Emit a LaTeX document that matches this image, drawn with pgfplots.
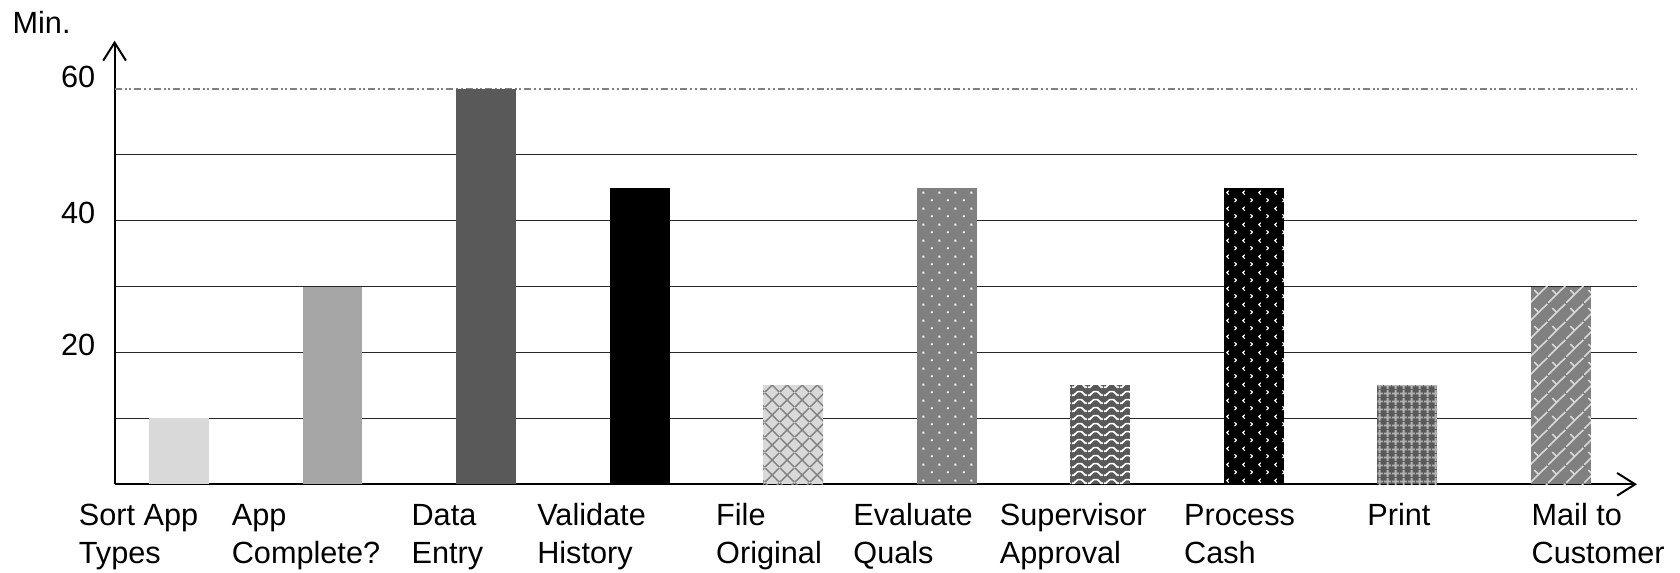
\documentclass[border=0pt]{standalone}
\usepackage{pgfplots}
\pgfplotsset{compat=1.18}
\usepackage{fontspec}
\setmainfont{Liberation Sans}
\usetikzlibrary{patterns.meta, arrows.meta}

\definecolor{lightfill}{HTML}{D9D9D9}
\definecolor{midfill}{HTML}{A6A6A6}
\definecolor{grayfill}{HTML}{808080}
\definecolor{darkfill}{HTML}{595959}
\definecolor{gridlight}{HTML}{B3B3B3}

% fill patterns for the bars
\tikzdeclarepattern{name=lattice, type=uncolored,
  bounding box={(0pt,0pt) and (4.5pt,4.5pt)}, tile size={(4.5pt,4.5pt)},
  code={\draw[line width=0.45pt] (0pt,0pt)--(4.5pt,4.5pt) (0pt,4.5pt)--(4.5pt,0pt);}}
\tikzdeclarepattern{name=sparsedots, type=uncolored,
  bounding box={(0pt,0pt) and (4.8pt,4.8pt)}, tile size={(4.8pt,4.8pt)},
  code={\fill (0.9pt,0.9pt) rectangle +(0.6pt,0.6pt);
        \fill (3.3pt,3.3pt) rectangle +(0.6pt,0.6pt);}}
\tikzdeclarepattern{name=waves, type=uncolored,
  bounding box={(0pt,0pt) and (4.8pt,2.4pt)}, tile size={(4.8pt,2.4pt)},
  code={\draw[line width=0.55pt] (0pt,0.6pt)--(0.6pt,0.6pt)--(1.8pt,1.8pt)--(3.0pt,1.8pt)--(4.2pt,0.6pt)--(4.8pt,0.6pt);}}
\tikzdeclarepattern{name=chevrons, type=uncolored,
  bounding box={(0pt,0pt) and (4.8pt,4.8pt)}, tile size={(4.8pt,4.8pt)},
  code={\draw[line width=0.35pt] (0.8pt,0.6pt)--(1.4pt,1.2pt)--(0.8pt,1.8pt);
        \draw[line width=0.35pt] (4.0pt,3.0pt)--(3.4pt,3.6pt)--(4.0pt,4.2pt);}}
\tikzdeclarepattern{name=smallgrid, type=uncolored,
  bounding box={(0pt,0pt) and (2.4pt,2.4pt)}, tile size={(2.4pt,2.4pt)},
  code={\draw[line width=0.6pt] (0pt,1.2pt)--(2.4pt,1.2pt) (1.2pt,0pt)--(1.2pt,2.4pt);}}
\tikzdeclarepattern{name=weave, type=uncolored,
  bounding box={(0pt,0pt) and (5.4pt,5.4pt)}, tile size={(5.4pt,5.4pt)},
  code={\draw[line width=0.5pt] (0pt,0pt)--(5.4pt,5.4pt);
        \draw[line width=0.5pt] (1.35pt,4.05pt)--(2.7pt,2.7pt);}}

% two-line category label, moved left by #1
\newcommand{\lbl}[3]{\hspace*{#1}\begin{tabular}[t]{@{}l@{}}#2\\#3\end{tabular}}
\newcommand{\labelfont}{\fontsize{9.2}{11.25}\selectfont}

\begin{document}
\begin{tikzpicture}
\useasboundingbox (-34.38pt,-26.31pt) rectangle (469.62pt,145.29pt);
\begin{axis}[
  scale only axis,
  width=456.72pt, height=133.08pt,
  xmin=-0.419, xmax=9.495,
  ymin=0, ymax=67.31,
  axis lines=left,
  axis line style={line width=0.6pt, -{Straight Barb[length=5.4pt, width=6.8pt, line width=0.6pt]}},
  major tick length=0pt,
  xtick={0,...,9},
  xticklabels={
    \lbl{-30.2pt}{Sort App}{Types},
    \lbl{-30.4pt}{App}{Complete?},
    \lbl{-24.6pt}{Data}{Entry},
    \lbl{-30.9pt}{Validate}{History},
    \lbl{-23.3pt}{File}{Original},
    \lbl{-28.2pt}{Evaluate}{Quals},
    \lbl{-30.3pt}{Supervisor}{Approval},
    \lbl{-21.1pt}{Process}{Cash},
    \lbl{-12.2pt}{Print}{},
    \lbl{-9.0pt}{Mail to}{Customer}},
  xticklabel style={anchor=base west, inner sep=0pt, yshift=-12.5pt,
    font=\labelfont},
  ytick={10,20,30,40,50},
  yticklabels={,20,,40,},
  yticklabel style={anchor=east, inner sep=0pt, xshift=-5.6pt, yshift=2.2pt,
    font=\labelfont},
  /pgf/number format/assume math mode=true,
  ymajorgrids,
  major grid style={line width=0.4pt, color=black!85},
  extra y ticks={60},
  extra y tick labels={60},
  extra y tick style={
    major grid style={line width=0.45pt, color=grayfill,
      dash pattern=on 2.1pt off 0.9pt on 0.6pt off 0.75pt on 0.6pt off 0.9pt},
    yticklabel style={yshift=1.5pt}},
  ylabel={Min.},
  every axis y label/.style={at={(axis description cs:0,1)}, anchor=base west,
    inner sep=0pt, xshift=-30.8pt, yshift=2.3pt, font=\labelfont},
  every axis plot/.append style={ybar, bar width=0.39, bar shift=0pt, draw=none},
]
\addplot[fill=lightfill] coordinates {(0,10)};
\addplot[fill=midfill] coordinates {(1,30)};
\addplot[fill=darkfill] coordinates {(2,60)};
\addplot[fill=black] coordinates {(3,45)};
\addplot[fill=lightfill, postaction={pattern=lattice, pattern color=grayfill}] coordinates {(4,15)};
\addplot[fill=grayfill, postaction={pattern=sparsedots, pattern color=white}] coordinates {(5,45)};
\addplot[fill=darkfill, postaction={pattern=waves, pattern color=white}] coordinates {(6,15)};
\addplot[fill=black, postaction={pattern=chevrons, pattern color=white}] coordinates {(7,45)};
\addplot[fill=darkfill, postaction={pattern=smallgrid, pattern color=gridlight}] coordinates {(8,15)};
\addplot[fill=grayfill, postaction={pattern=weave, pattern color=lightfill}] coordinates {(9,30)};
\end{axis}
\end{tikzpicture}
\end{document}
